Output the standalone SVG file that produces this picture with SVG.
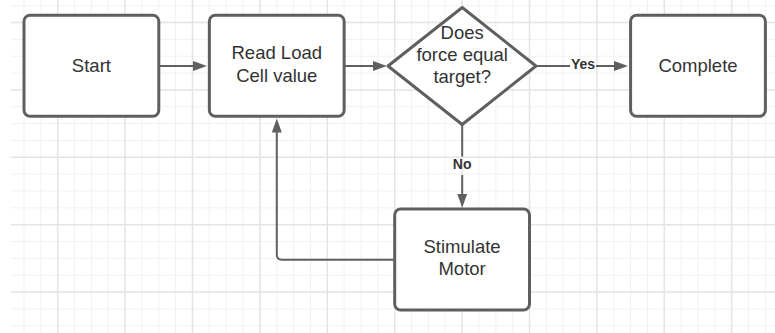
<svg xmlns="http://www.w3.org/2000/svg" width="775" height="333" viewBox="0 0 775 333">
<style>
.minor{stroke:#f1f1f1;stroke-width:1;fill:none}
.major{stroke:#e4e4e4;stroke-width:1.5;fill:none}
.node{fill:#ffffff;stroke:#5f5f5f;stroke-width:3;stroke-linejoin:round}
.lbl{font-family:"Liberation Sans",Arial,sans-serif;font-size:18.5px;fill:#333333;text-anchor:middle}
.edge{fill:none;stroke:#5f5f5f;stroke-width:2}
.elbl{font-family:"Liberation Sans",Arial,sans-serif;font-size:14px;font-weight:bold;fill:#333333;text-anchor:middle}
</style>
<defs>
<marker id="arrow" markerUnits="userSpaceOnUse" markerWidth="16" markerHeight="12" refX="7" refY="5" orient="auto">
<path d="M0,0 L14,5 L0,10 Z" fill="#5f5f5f"/>
</marker>
</defs>
<rect x="0" y="0" width="775" height="333" fill="#ffffff"/>
<g id="grid">
<path class="minor" d="M24 0V333M40.85 0V333M74.55 0V333M91.4 0V333M108.25 0V333M141.95 0V333M158.8 0V333M175.65 0V333M209.35 0V333M226.2 0V333M243.05 0V333M276.75 0V333M293.6 0V333M310.45 0V333M344.15 0V333M361 0V333M377.85 0V333M411.55 0V333M428.4 0V333M445.25 0V333M478.95 0V333M495.8 0V333M512.65 0V333M546.35 0V333M563.2 0V333M580.05 0V333M613.75 0V333M630.6 0V333M647.45 0V333M681.15 0V333M698 0V333M714.85 0V333M748.55 0V333M765.4 0V333"/>
<path class="minor" d="M11 5.65H775M11 39.35H775M11 56.2H775M11 73.05H775M11 106.75H775M11 123.6H775M11 140.45H775M11 174.15H775M11 191H775M11 207.85H775M11 241.55H775M11 258.4H775M11 275.25H775M11 308.95H775M11 325.8H775"/>
<path class="major" d="M57.7 0V333M125.1 0V333M192.5 0V333M259.9 0V333M327.3 0V333M394.7 0V333M462.1 0V333M529.5 0V333M596.9 0V333M664.3 0V333M731.7 0V333"/>
<path class="major" d="M11 22.5H775M11 89.9H775M11 157.3H775M11 224.7H775M11 292.1H775"/>
</g>
<g id="connectors">
<path class="edge" d="M158.8 66H200" marker-end="url(#arrow)"/>
<path class="edge" d="M344.15 66H380" marker-end="url(#arrow)"/>
<path class="edge" d="M536 66H570"/>
<path class="edge" d="M596 66H621" marker-end="url(#arrow)"/>
<text class="elbl" x="583" y="69.3">Yes</text>
<path class="edge" d="M462.2 124.5V156.5"/>
<path class="edge" d="M462.2 175V200.7" marker-end="url(#arrow)"/>
<text class="elbl" x="462.2" y="169">No</text>
<path class="edge" d="M394.7 259.7H282Q276.8 259.7 276.8 254.5V125.5" marker-end="url(#arrow)"/>
</g>
<g id="start">
<rect class="node" x="24" y="15.3" width="134.8" height="101" rx="6"/>
<text class="lbl" x="91.4" y="72">Start</text>
</g>
<g id="read">
<rect class="node" x="209.35" y="15.3" width="134.8" height="101" rx="6"/>
<text class="lbl" x="276.75" y="59.3">Read Load</text>
<text class="lbl" x="276.75" y="81.7">Cell value</text>
</g>
<g id="decision">
<path class="node" d="M462.2 7.5L536 66L462.2 124.5L388 66Z"/>
<text class="lbl" x="462.2" y="38.5">Does</text>
<text class="lbl" x="462.2" y="60.7">force equal</text>
<text class="lbl" x="462.2" y="82.9">target?</text>
</g>
<g id="complete">
<rect class="node" x="630.6" y="15.3" width="134.8" height="101" rx="6"/>
<text class="lbl" x="698" y="72">Complete</text>
</g>
<g id="stimulate">
<rect class="node" x="394.7" y="209" width="134.8" height="101" rx="6"/>
<text class="lbl" x="462.1" y="252.5">Stimulate</text>
<text class="lbl" x="462.1" y="274.7">Motor</text>
</g>
</svg>
